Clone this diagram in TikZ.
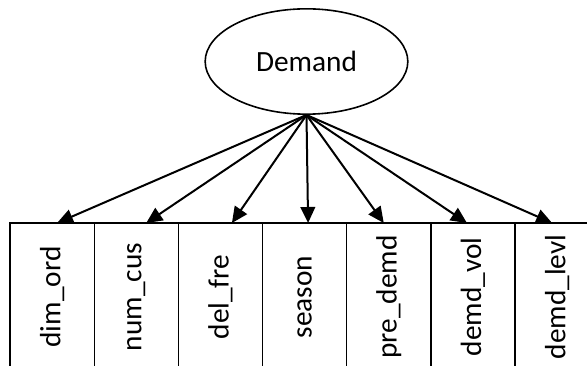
\documentclass[tikz,border=0pt]{standalone}
\usepackage{fontspec}
\setmainfont{Carlito}
\usetikzlibrary{calc,positioning,arrows.meta,shapes.geometric}

\tikzset{
  latent/.style={draw,ellipse,line width=1.2pt,inner sep=0pt,minimum width=152pt,minimum height=79pt},
  obsbox/.style={draw,line width=1pt},
  obslabel/.style={rotate=90,inner sep=0pt},
  loading/.style={line width=1.5pt,-{Triangle[length=12pt,width=11pt]}}
}

\begin{document}
\begin{tikzpicture}[x=0.75pt,y=-0.75pt,font=\fontsize{22}{26}\selectfont]
			\useasboundingbox (0,0) rectangle (587,366);
			\node[latent] (dem) at (306.5,61.5) {Demand};
			\foreach \lab/\dx [count=\i from 0] in {dim\_ord/5,num\_cus/10,del\_fre/11.5,season/3.5,pre\_demd/-5,demd\_vol/-6,demd\_levl/-5} {
				\draw[obsbox] ($(10,223)+\i*(84.17,0)$) coordinate (nw\i) rectangle ++(84.17,152) coordinate (se\i);
				\node[obslabel] at ($(nw\i)+(42.08,74)$) (b\i) {\lab};
				\coordinate (in\i) at ($(nw\i)+(42.08+\dx,0)$);
				\draw[loading] (dem.south) -- (in\i);
			};
	\end{tikzpicture}
\end{document}
